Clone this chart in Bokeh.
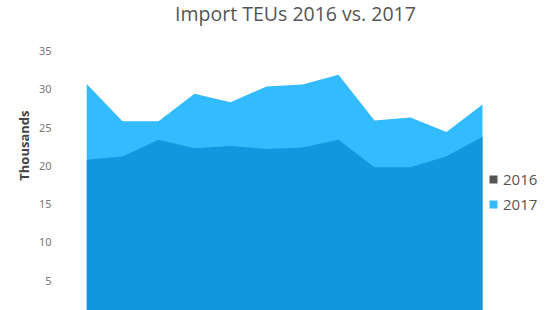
from bokeh.plotting import figure
from bokeh.models import Range1d, FixedTicker, Label, Legend, LegendItem, ColumnDataSource, Title
from bokeh.embed import file_html
from bokeh.resources import INLINE

months = list(range(12))
teu_2016 = [20.8, 21.2, 23.4, 22.3, 22.6, 22.2, 22.4, 23.4, 19.8, 19.8, 21.25, 23.8]
teu_2017 = [30.7, 25.8, 25.8, 29.4, 28.3, 30.35, 30.6, 31.9, 25.9, 26.3, 24.4, 28.0]
y_ticks = [5, 10, 15, 20, 25, 30, 35]
title_text = "Import TEUs 2016 vs. 2017"
y_label = "Thousands"
series_names = ["2016", "2017"]

src = ColumnDataSource(dict(x=months, zero=[0] * len(months), a=teu_2016, b=teu_2017))

p = figure(width=550, height=310, output_backend="svg", toolbar_location=None,
           x_range=Range1d(0, 12.889), y_range=Range1d(1.11, 41.58),
           x_axis_location=None, title=None,
           min_border_left=86, min_border_right=0, min_border_top=0, min_border_bottom=0)
p.outline_line_color = None
p.grid.visible = False
p.background_fill_color = "white"
p.border_fill_color = "white"

p.varea(x="x", y1="zero", y2="b", source=src, fill_color="#33BBFF")
p.varea(x="x", y1="zero", y2="a", source=src, fill_color="#1197DB")

ax = p.yaxis[0]
ax.ticker = FixedTicker(ticks=y_ticks)
ax.axis_line_color = None
ax.major_tick_line_color = None
ax.minor_tick_line_color = None
ax.major_label_standoff = 29
ax.major_label_text_font = "Noto Sans"
ax.major_label_text_font_size = "11px"
ax.major_label_text_color = "#777777"

p.add_layout(Title(text=y_label, align="right", offset=110, standoff=6,
                   text_font="Open Sans", text_font_size="13px", text_font_style="bold",
                   text_color="#444444"), "left")

p.add_layout(Label(x=209, y=297, x_units="screen", y_units="screen", text=title_text,
                   text_align="center", text_baseline="alphabetic",
                   text_font="Open Sans", text_font_size="19.5px", text_color="#555555"))

d16 = p.scatter(x=[-100], y=[-100], marker="square", size=8, fill_color="#555555", line_color=None)
d17 = p.scatter(x=[-100], y=[-100], marker="square", size=8, fill_color="#33BBFF", line_color=None)
legend = Legend(items=[LegendItem(label=series_names[0], renderers=[d16]),
                       LegendItem(label=series_names[1], renderers=[d17])],
                location=(397, 96), glyph_width=20, glyph_height=20, label_height=20,
                spacing=5, padding=0, margin=0, label_standoff=-2,
                label_text_font="Open Sans", label_text_font_size="15px",
                label_text_color="#555555", border_line_color=None,
                background_fill_alpha=0)
p.add_layout(legend)

open("out.html", "w").write(file_html(p, INLINE))
